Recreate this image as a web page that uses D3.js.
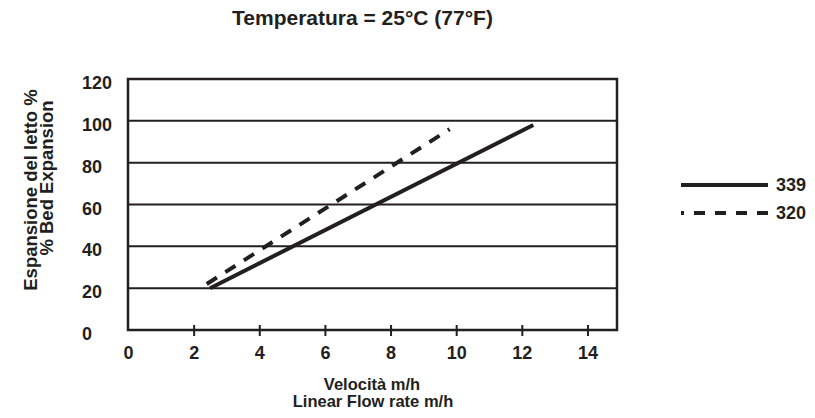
<!DOCTYPE html>
<html>
<head>
<meta charset="utf-8">
<script src="https://cdn.jsdelivr.net/npm/d3@7"></script>
<style>
  html, body { margin: 0; padding: 0; background: #fff; }
  svg { display: block; font-family: "Liberation Sans", Arial, sans-serif; font-weight: bold; }
</style>
</head>
<body>
<svg id="chart" width="815" height="418"></svg>
<script>
const titleText = "Temperatura = 25°C (77°F)";
const yTitleLines = ["Espansione del letto %", "% Bed Expansion"];
const xTitleLines = ["Velocità m/h", "Linear Flow rate m/h"];
const xTicks = [0, 2, 4, 6, 8, 10, 12, 14];
const yTicks = [0, 20, 40, 60, 80, 100, 120];
const seriesNames = ["339", "320"];
const series339 = [{x: 2.5, y: 20}, {x: 12.35, y: 98}];
const series320 = [{x: 2.4, y: 22}, {x: 9.8, y: 96}];

const svg = d3.select("#chart");
const pLeft = 128, pRight = 617, pTop = 79, pBottom = 330;
const x = d3.scaleLinear().domain([0, 14.9]).range([pLeft, pRight]);
const y = d3.scaleLinear().domain([0, 120]).range([pBottom, pTop]);
const ink = "#231f20";

// title
svg.append("text").attr("x", 362.5).attr("y", 25).attr("text-anchor", "middle")
  .attr("font-size", 21).attr("fill", ink).text(titleText);

// horizontal grid lines
svg.append("g").selectAll("line").data(yTicks.filter(d => d > 0 && d < 120)).join("line")
  .attr("x1", pLeft).attr("x2", pRight)
  .attr("y1", d => y(d)).attr("y2", d => y(d))
  .attr("stroke", ink).attr("stroke-width", 2);

// frame
svg.append("rect").attr("x", pLeft).attr("y", pTop)
  .attr("width", pRight - pLeft).attr("height", pBottom - pTop)
  .attr("fill", "none").attr("stroke", ink).attr("stroke-width", 2.5);

// x axis ticks
const xAxis = d3.axisBottom(x).tickValues(xTicks).tickSize(0).tickPadding(0).tickFormat(d3.format("d"));
const gx = svg.append("g").attr("transform", `translate(0,${pBottom})`).call(xAxis);
gx.select(".domain").remove();
gx.selectAll(".tick text").attr("y", 29).attr("font-size", 18).attr("font-weight", "bold")
  .attr("font-family", "'Liberation Sans', Arial, sans-serif").attr("fill", ink).attr("dy", null);
gx.selectAll(".tick").filter(d => d > 0).append("line")
  .attr("y1", -5).attr("y2", 6).attr("stroke", ink).attr("stroke-width", 2);

// y axis labels
const yAxis = d3.axisLeft(y).tickValues(yTicks).tickSize(0).tickFormat(d3.format("d"));
const gy = svg.append("g").call(yAxis);
gy.select(".domain").remove();
gy.selectAll(".tick text").attr("x", 82).attr("text-anchor", "start").attr("dy", "0.42em")
  .attr("transform", "translate(0,2)")
  .attr("font-size", 18).attr("font-weight", "bold")
  .attr("font-family", "'Liberation Sans', Arial, sans-serif").attr("fill", ink);

// y title
svg.append("text").attr("transform", "translate(37,190) rotate(-90)").attr("text-anchor", "middle")
  .attr("font-size", 18.5).attr("fill", ink).text(yTitleLines[0]);
svg.append("text").attr("transform", "translate(52.5,178) rotate(-90)").attr("text-anchor", "middle")
  .attr("font-size", 18.5).attr("fill", ink).text(yTitleLines[1]);

// x title
svg.append("text").attr("x", 372).attr("y", 390).attr("text-anchor", "middle")
  .attr("font-size", 16.5).attr("fill", ink).text(xTitleLines[0]);
svg.append("text").attr("x", 373).attr("y", 407).attr("text-anchor", "middle")
  .attr("font-size", 16.5).attr("fill", ink).text(xTitleLines[1]);

// lines
const line = d3.line().x(d => x(d.x)).y(d => y(d.y));
svg.append("path").datum(series339).attr("d", line)
  .attr("fill", "none").attr("stroke", ink).attr("stroke-width", 4);
svg.append("path").datum(series320).attr("d", line)
  .attr("fill", "none").attr("stroke", ink).attr("stroke-width", 4)
  .attr("stroke-dasharray", "12,10");

// legend
const lg = svg.append("g");
lg.append("line").attr("x1", 681).attr("x2", 768).attr("y1", 185).attr("y2", 185)
  .attr("stroke", ink).attr("stroke-width", 4);
lg.append("line").attr("x1", 768).attr("x2", 681).attr("y1", 213).attr("y2", 213)
  .attr("stroke", ink).attr("stroke-width", 4).attr("stroke-dasharray", "11,10");
lg.append("text").attr("x", 776).attr("y", 190.5).attr("font-size", 18).attr("fill", ink).text(seriesNames[0]);
lg.append("text").attr("x", 776).attr("y", 219).attr("font-size", 18).attr("fill", ink).text(seriesNames[1]);
</script>
</body>
</html>
